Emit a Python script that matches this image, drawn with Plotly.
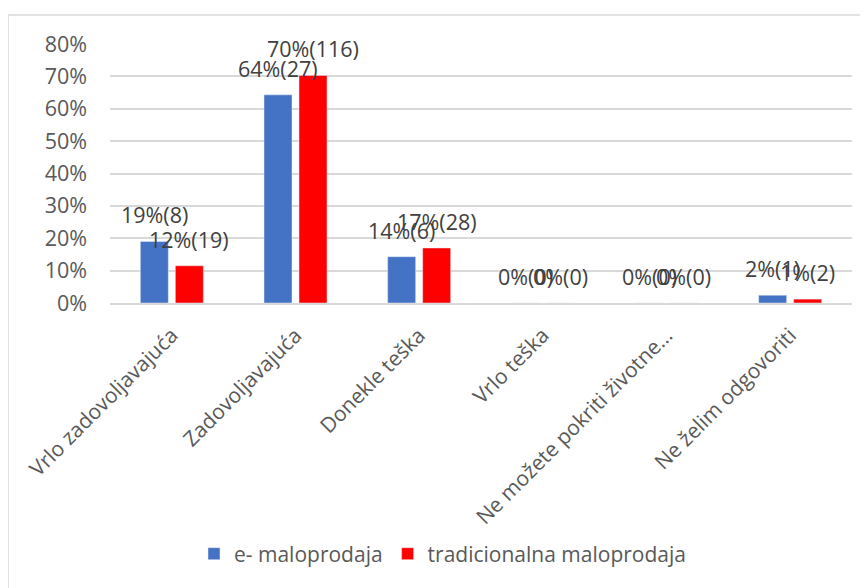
import plotly.graph_objects as go

categories = ["Vrlo zadovoljavajuća", "Zadovoljavajuća", "Donekle teška", "Vrlo teška",
              "Ne možete pokriti životne…", "Ne želim odgovoriti"]
e_pct = [0.19, 0.643, 0.143, 0.0, 0.0, 0.024]
e_cnt = [8, 27, 6, 0, 0, 1]
t_pct = [0.115, 0.703, 0.17, 0.0, 0.0, 0.012]
t_cnt = [19, 116, 28, 0, 0, 2]
y_ticks = [0, 0.1, 0.2, 0.3, 0.4, 0.5, 0.6, 0.7, 0.8]

FONT = "Open Sans"
W, H = 868, 588
OFF = 8  # page body margin
L, R, T, B = 110 - OFF, 24, 44 - OFF, 292.5
BARGAP, GROUPGAP = 0.434, 0.2


def labels(p, n):
    return [f"{round(a * 100)}%({b})" for a, b in zip(p, n)]


fig = go.Figure()
fig.add_bar(name="e- maloprodaja", x=categories, y=e_pct, marker_color="#4472C4")
fig.add_bar(name="tradicionalna maloprodaja", x=categories, y=t_pct, marker_color="#FF0000")

pw, ph = W - L - R, H - T - B
slot = pw / len(categories) * (1 - BARGAP) / 2

annotations = []
for shift, pcts, cnts in ((-slot / 2, e_pct, e_cnt), (slot / 2, t_pct, t_cnt)):
    for c, v, txt in zip(categories, pcts, labels(pcts, cnts)):
        annotations.append(dict(x=c, y=v, xref="x", yref="y", text=txt, showarrow=False,
                                xanchor="center", yanchor="bottom", xshift=shift, yshift=10,
                                font=dict(color="#404040", size=21.5, family=FONT)))


def px_x(px):
    return (px - OFF - L) / pw
def px_y(py):
    return (H - B - (py - OFF)) / ph

fig.update_layout(
    width=W, height=H,
    margin=dict(l=L, r=R, t=T, b=B, autoexpand=False),
    paper_bgcolor="white", plot_bgcolor="white",
    barmode="group", bargap=BARGAP, bargroupgap=GROUPGAP,
    font=dict(family=FONT, size=21, color="#595959"),
    showlegend=True,
    annotations=annotations,
    legend=dict(orientation="h", x=px_x(194), xanchor="left", y=px_y(555), yanchor="middle",
                font=dict(size=21, color="#595959", family=FONT), itemwidth=30,
                traceorder="normal", tracegroupgap=0),
    shapes=[dict(type="rect", xref="paper", yref="paper",
                 x0=px_x(8), x1=px_x(880), y0=px_y(15), y1=px_y(610),
                 line=dict(color="#D9D9D9", width=1.5), layer="below")],
)
fig.update_yaxes(range=[0, 0.8], tickvals=y_ticks, tickformat=".0%",
                 showgrid=True, gridcolor="#D9D9D9", gridwidth=1.5,
                 zeroline=False, showline=False, ticklabelstandoff=22,
                 tickfont=dict(size=21.5, color="#595959", family=FONT))
fig.update_xaxes(tickangle=-45, showline=True, linecolor="#D9D9D9", linewidth=1.5,
                 ticks="", ticklabelstandoff=10,
                 tickfont=dict(size=21, color="#595959", family=FONT))

fig.write_html("out.html")
